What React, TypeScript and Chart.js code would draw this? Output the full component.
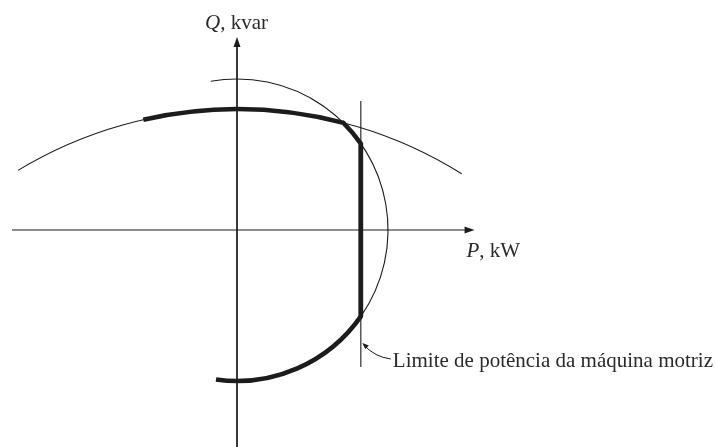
import React, { useEffect, useRef } from "react";
import { Chart, registerables } from "chart.js";

Chart.register(...registerables);

// Geometry (per-unit, armature radius = 1)
const ARMATURE_CIRCLE = [0, 0, 1.0]; // cx, cy, r
const FIELD_CIRCLE = [0, -2.0, 2.8]; // cx, cy, r
const PRIME_MOVER_P = 0.82;
const PRIME_MOVER_Q_RANGE = [0.854, -0.907];
const ARMATURE_THIN_ANGLES = [100, -35]; // degrees
const FIELD_THIN_ANGLES = [121.2, 57.9];
const FIELD_THICK_ANGLES = [102.8, 75.4];
const ARMATURE_THICK_TOP = [45.2, 34.9];
const ARMATURE_THICK_BOTTOM = [-34.9, -98];
const P_AXIS = [-1.49, 1.573];
const Q_AXIS = [1.278, -1.44];
const X_RANGE = [-1.5695, 3.172];
const Y_RANGE = [-1.437, 1.523];

const AXIS_LABEL_Q = ["Q", ", kvar"];
const AXIS_LABEL_P = ["P", ", kW"];
const CALLOUT_TEXT = "Limite de potência da máquina motriz";

const INK = "#1c1c1c";
const FONT = '"Liberation Serif", "Times New Roman", serif';
const FONT_SIZE = 21;

const drawingPlugin = {
  id: "capability",
  afterDatasetsDraw(chart: any) {
    const ctx = chart.ctx as CanvasRenderingContext2D;
    const xs = chart.scales.x;
    const ys = chart.scales.y;
    const px = (v: number) => xs.getPixelForValue(v);
    const py = (v: number) => ys.getPixelForValue(v);
    const k = px(1) - px(0);
    const rad = (d: number) => (-d * Math.PI) / 180;

    ctx.save();
    ctx.strokeStyle = INK;
    ctx.fillStyle = INK;

    // thin arcs
    ctx.lineWidth = 1.1;
    ctx.beginPath();
    ctx.arc(px(ARMATURE_CIRCLE[0]), py(ARMATURE_CIRCLE[1]), ARMATURE_CIRCLE[2] * k,
      rad(ARMATURE_THIN_ANGLES[0]), rad(ARMATURE_THIN_ANGLES[1]), false);
    ctx.stroke();
    ctx.beginPath();
    ctx.arc(px(FIELD_CIRCLE[0]), py(FIELD_CIRCLE[1]), FIELD_CIRCLE[2] * k,
      rad(FIELD_THIN_ANGLES[0]), rad(FIELD_THIN_ANGLES[1]), false);
    ctx.stroke();

    // thick capability boundary
    ctx.lineWidth = 4.5;
    ctx.lineJoin = "round";
    ctx.lineCap = "butt";
    ctx.beginPath();
    ctx.arc(px(FIELD_CIRCLE[0]), py(FIELD_CIRCLE[1]), FIELD_CIRCLE[2] * k,
      rad(FIELD_THICK_ANGLES[0]), rad(FIELD_THICK_ANGLES[1]), false);
    ctx.arc(px(ARMATURE_CIRCLE[0]), py(ARMATURE_CIRCLE[1]), ARMATURE_CIRCLE[2] * k,
      rad(ARMATURE_THICK_TOP[0]), rad(ARMATURE_THICK_TOP[1]), false);
    ctx.arc(px(ARMATURE_CIRCLE[0]), py(ARMATURE_CIRCLE[1]), ARMATURE_CIRCLE[2] * k,
      rad(ARMATURE_THICK_BOTTOM[0]), rad(ARMATURE_THICK_BOTTOM[1]), false);
    ctx.stroke();

    // arrowheads on axes
    const arrow = (x: number, y: number, dir: "up" | "right") => {
      ctx.beginPath();
      if (dir === "up") {
        ctx.moveTo(x, y);
        ctx.lineTo(x - 3.5, y + 10);
        ctx.lineTo(x + 3.5, y + 10);
      } else {
        ctx.moveTo(x, y);
        ctx.lineTo(x - 10, y - 3.5);
        ctx.lineTo(x - 10, y + 3.5);
      }
      ctx.closePath();
      ctx.fill();
    };
    arrow(px(0), py(Q_AXIS[0]), "up");
    arrow(px(P_AXIS[1]), py(0), "right");

    // labels
    ctx.fillStyle = "#2a2a2a";
    ctx.textBaseline = "middle";
    const twoPart = (parts: string[], x: number, y: number) => {
      ctx.font = `italic ${FONT_SIZE}px ${FONT}`;
      ctx.textAlign = "left";
      ctx.fillText(parts[0], x, y);
      const w = ctx.measureText(parts[0]).width;
      ctx.font = `${FONT_SIZE}px ${FONT}`;
      ctx.fillText(parts[1], x + w, y);
    };
    twoPart(AXIS_LABEL_Q, px(0) - 32, py(0) - 207);
    twoPart(AXIS_LABEL_P, px(P_AXIS[1]) - 8, py(0) + 21);

    // callout
    const lx = px(PRIME_MOVER_P);
    const tx = lx + 32;
    const ty = py(0) + 131;
    ctx.font = `${FONT_SIZE}px ${FONT}`;
    ctx.textAlign = "left";
    ctx.fillText(CALLOUT_TEXT, tx, ty);

    ctx.strokeStyle = INK;
    ctx.lineWidth = 1;
    ctx.beginPath();
    ctx.moveTo(tx - 2, ty - 2);
    ctx.quadraticCurveTo(lx + 14, ty - 4, lx + 3, ty - 16);
    ctx.stroke();
    ctx.beginPath();
    ctx.moveTo(lx + 1.5, ty - 18);
    ctx.lineTo(lx + 8, ty - 15.5);
    ctx.lineTo(lx + 4.5, ty - 12);
    ctx.closePath();
    ctx.fillStyle = INK;
    ctx.fill();

    ctx.restore();
  },
};

export default function App() {
  const ref = useRef<HTMLCanvasElement | null>(null);
  useEffect(() => {
    document.body.style.margin = "0";
    document.body.style.background = "#ffffff";
    const canvas = ref.current!;
    const lineDs = (pts: { x: number; y: number }[], width: number) => ({
      data: pts,
      showLine: true,
      borderColor: INK,
      borderWidth: width,
      pointRadius: 0,
      pointHoverRadius: 0,
      fill: false,
      tension: 0,
    });
    const chart = new Chart(canvas, {
      type: "scatter",
      data: {
        datasets: [
          lineDs([{ x: P_AXIS[0], y: 0 }, { x: P_AXIS[1] - 0.03, y: 0 }], 1),
          lineDs([{ x: 0, y: Q_AXIS[0] - 0.03 }, { x: 0, y: Q_AXIS[1] }], 1),
          lineDs([{ x: PRIME_MOVER_P, y: PRIME_MOVER_Q_RANGE[0] }, { x: PRIME_MOVER_P, y: PRIME_MOVER_Q_RANGE[1] }], 1.1),
          lineDs([{ x: PRIME_MOVER_P, y: Math.sqrt(1 - PRIME_MOVER_P * PRIME_MOVER_P) }, { x: PRIME_MOVER_P, y: -Math.sqrt(1 - PRIME_MOVER_P * PRIME_MOVER_P) }], 4.5),
        ],
      },
      options: {
        animation: false,
        responsive: false,
        maintainAspectRatio: false,
        layout: { padding: 0 },
        plugins: { legend: { display: false }, tooltip: { enabled: false } },
        events: [],
        scales: {
          x: { type: "linear", min: X_RANGE[0], max: X_RANGE[1], display: false },
          y: { type: "linear", min: Y_RANGE[0], max: Y_RANGE[1], display: false },
        },
      },
      plugins: [drawingPlugin],
    });
    return () => chart.destroy();
  }, []);
  return <canvas ref={ref} width={716} height={447} style={{ display: "block" }} />;
}
